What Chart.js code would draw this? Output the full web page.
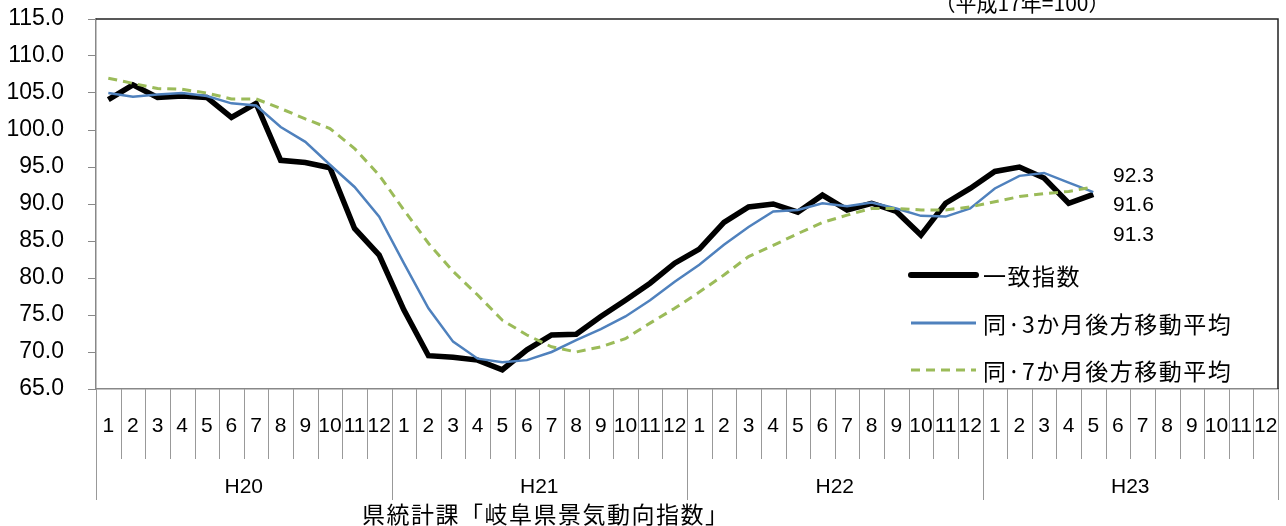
<!DOCTYPE html>
<html>
<head>
<meta charset="utf-8">
<script src="https://cdn.jsdelivr.net/npm/chart.js@4"></script>
<style>
  body { margin: 0; background: #fff; }
  canvas { display: block; }
</style>
</head>
<body>
<canvas id="chart" width="1286" height="526"></canvas>
<script>
const months = [];
for (let y = 0; y < 4; y++) for (let m = 1; m <= 12; m++) months.push(String(m));
const years = ["H20", "H21", "H22", "H23"];

const coincident = [104.1, 106.1, 104.4, 104.6, 104.4, 101.7, 103.6, 95.9, 95.6, 94.9, 86.7, 83.1,
  75.7, 69.5, 69.3, 68.9, 67.6, 70.3, 72.3, 72.4, 74.8, 77.0, 79.3, 82.0,
  83.9, 87.5, 89.6, 90.0, 88.9, 91.2, 89.2, 90.1, 89.0, 85.8, 90.1, 92.1,
  94.4, 95.0, 93.5, 90.1, 91.3];
const avg3 = [105.0, 104.5, 104.8, 105.0, 104.6, 103.6, 103.3, 100.4, 98.4, 95.3, 92.3, 88.3,
  82.0, 75.9, 71.4, 69.1, 68.6, 68.9, 70.0, 71.6, 73.1, 74.8, 77.0, 79.5,
  81.8, 84.5, 86.9, 89.0, 89.2, 90.1, 89.7, 90.2, 89.4, 88.4, 88.3, 89.4,
  92.1, 93.8, 94.2, 92.9, 91.6];
const avg7 = [107.0, 106.3, 105.6, 105.5, 105.0, 104.2, 104.2, 102.9, 101.5, 100.2, 97.5, 93.9,
  89.2, 84.7, 80.9, 77.7, 74.3, 72.3, 70.7, 70.0, 70.7, 71.8, 73.9, 75.9,
  78.1, 80.4, 82.9, 84.4, 86.0, 87.5, 88.5, 89.4, 89.4, 89.2, 89.2, 89.6,
  90.3, 91.0, 91.4, 91.7, 92.3];

const seriesNames = ["一致指数", "同·3か月後方移動平均", "同·7か月後方移動平均"];
const unitNote = "（平成17年=100）";
const sourceNote = "県統計課「岐阜県景気動向指数」";

const numFont = '"Liberation Sans", Arial, sans-serif';
const jpFont = '"Noto Sans CJK JP", "Liberation Sans", sans-serif';

// frame, month/year axis, legend and notes
const decor = {
  id: "decor",
  afterDraw(chart) {
    const ctx = chart.ctx;
    const area = chart.chartArea;
    const x = chart.scales.x;
    const half = (x.getPixelForValue(1) - x.getPixelForValue(0)) / 2;
    ctx.save();

    // top and right frame
    ctx.strokeStyle = "#222";
    ctx.lineWidth = 1.5;
    ctx.beginPath();
    ctx.moveTo(area.left, area.top);
    ctx.lineTo(area.right, area.top);
    ctx.lineTo(area.right, area.bottom);
    ctx.stroke();

    // month separators, longer at year boundaries
    ctx.strokeStyle = "#999";
    ctx.lineWidth = 1;
    for (let i = 0; i <= months.length; i++) {
      const px = Math.round((i < months.length ? x.getPixelForValue(i) - half : x.getPixelForValue(i - 1) + half)) + 0.5;
      const len = i % 12 === 0 ? 111 : 70;
      ctx.beginPath();
      ctx.moveTo(px, area.bottom);
      ctx.lineTo(px, area.bottom + len);
      ctx.stroke();
    }

    ctx.fillStyle = "#000";
    ctx.textAlign = "center";
    ctx.textBaseline = "middle";
    ctx.font = "21px " + numFont;
    months.forEach((m, i) => ctx.fillText(m, x.getPixelForValue(i), area.bottom + 37));
    years.forEach((yr, k) => {
      const cx = (x.getPixelForValue(k * 12) + x.getPixelForValue(k * 12 + 11)) / 2;
      ctx.fillText(yr, cx, area.bottom + 98);
    });

    // legend
    const rows = [275, 323, 370];
    chart.data.datasets.forEach((ds, k) => {
      ctx.beginPath();
      ctx.strokeStyle = ds.borderColor;
      ctx.lineWidth = k === 0 ? 6 : 3;
      ctx.lineCap = k === 0 ? "round" : "butt";
      ctx.setLineDash(ds.borderDash || []);
      ctx.moveTo(911, rows[k]);
      ctx.lineTo(976, rows[k]);
      ctx.stroke();
      ctx.setLineDash([]);
      ctx.font = "23px " + jpFont;
      ctx.letterSpacing = "1.5px";
      ctx.textAlign = "left";
      ctx.fillText(ds.label, 983, rows[k] + 1);
    });

    // latest values
    ctx.letterSpacing = "0px";
    ctx.font = "21px " + numFont;
    ctx.textAlign = "left";
    const latest = [avg7, avg3, coincident];
    latest.forEach((arr, k) => ctx.fillText(arr[arr.length - 1].toFixed(1), 1113, 176 + k * 29.5));

    // notes
    ctx.font = "21px " + jpFont;
    ctx.textAlign = "center";
    ctx.fillText(unitNote, 1022, 3);
    ctx.font = "23px " + jpFont;
    ctx.letterSpacing = "1.5px";
    ctx.textAlign = "left";
    ctx.fillText(sourceNote, 362, 514);
    ctx.restore();
  }
};

new Chart(document.getElementById("chart").getContext("2d"), {
  type: "line",
  data: {
    labels: months,
    datasets: [
      {
        label: seriesNames[0],
        data: coincident,
        borderColor: "#000000",
        borderWidth: 5.5,
        order: 3,
      },
      {
        label: seriesNames[1],
        data: avg3,
        borderColor: "#4f81bd",
        borderWidth: 2.5,
        order: 2,
      },
      {
        label: seriesNames[2],
        data: avg7,
        borderColor: "#9bbb59",
        borderWidth: 3,
        borderDash: [9, 6],
        order: 1,
      },
    ],
  },
  options: {
    responsive: false,
    animation: false,
    layout: { padding: { left: 0, right: 8, top: 19, bottom: 0 } },
    elements: { point: { radius: 0 }, line: { tension: 0, borderJoinStyle: "miter" } },
    plugins: { legend: { display: false }, tooltip: { enabled: false } },
    scales: {
      x: {
        offset: true,
        ticks: { display: false },
        grid: { display: false },
        border: { color: "#888", width: 1.5 },
        afterFit: (s) => { s.height = 137; },
      },
      y: {
        min: 65,
        max: 115,
        ticks: {
          stepSize: 5,
          padding: 24,
          color: "#000",
          font: { size: 23, family: numFont },
          callback: (v) => v.toFixed(1),
        },
        grid: { drawOnChartArea: false, tickLength: 8, color: "#888" },
        border: { color: "#888", width: 1.5 },
        afterFit: (s) => { s.width = 96; s.paddingTop = 0; s.paddingBottom = 0; },
      },
    },
  },
  plugins: [decor],
});
</script>
</body>
</html>
